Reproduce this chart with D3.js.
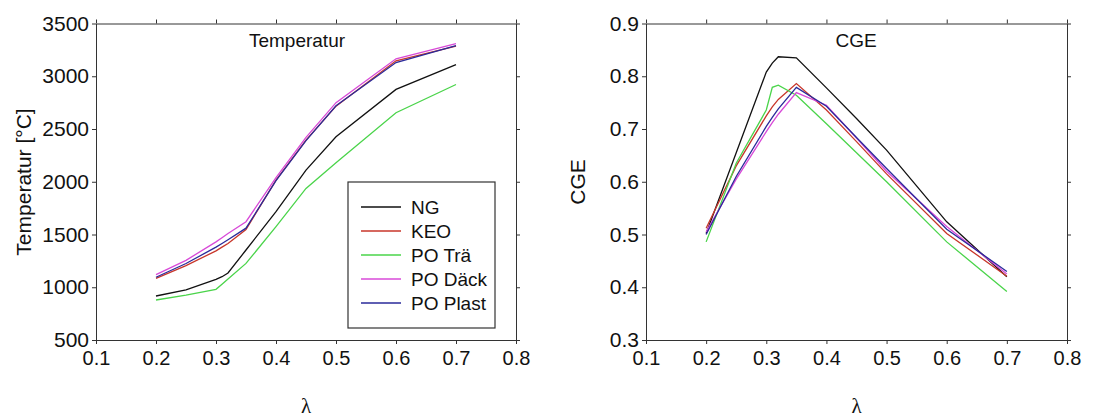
<!DOCTYPE html>
<html>
<head>
<meta charset="utf-8">
<script src="https://cdn.jsdelivr.net/npm/d3@7"></script>
<style>
  body { margin: 0; background: #fff; }
  text { font-family: "Liberation Sans", Arial, sans-serif; fill: #111; }
  .axis path, .axis line { stroke: #333; }
</style>
</head>
<body>
<svg id="chart" width="1120" height="418"></svg>
<script>
// lambda values shared by both panels
const lambda = [0.2, 0.25, 0.3, 0.31, 0.32, 0.35, 0.4, 0.45, 0.5, 0.6, 0.7];

const seriesNames = ["NG", "KEO", "PO Trä", "PO Däck", "PO Plast"];
const seriesColors = ["#111111", "#c8362a", "#4ad44a", "#d84ad8", "#2a2a9a"];

// Temperatur [°C]
const tempNG    = [917, 975, 1075, 1100, 1135, 1353, 1716, 2110, 2426, 2875, 3111];
const tempKEO   = [1084, 1205, 1345, 1380, 1415, 1548, 2016, 2395, 2717, 3146, 3285];
const tempTra   = [879, 926, 980, 1029, 1078, 1226, 1574, 1937, 2180, 2654, 2922];
const tempDack  = [1120, 1255, 1430, 1470, 1510, 1621, 2040, 2420, 2750, 3165, 3310];
const tempPlast = [1095, 1225, 1380, 1415, 1450, 1560, 2010, 2390, 2720, 3130, 3290];

// CGE
const cgeNG    = [0.502, 0.655, 0.808, 0.825, 0.837, 0.835, 0.778, 0.720, 0.660, 0.524, 0.420];
const cgeKEO   = [0.512, 0.630, 0.725, 0.742, 0.756, 0.786, 0.736, 0.676, 0.615, 0.502, 0.421];
const cgeTra   = [0.486, 0.635, 0.736, 0.779, 0.783, 0.764, 0.710, 0.655, 0.600, 0.486, 0.392];
const cgeDack  = [0.505, 0.605, 0.695, 0.712, 0.728, 0.769, 0.745, 0.683, 0.620, 0.515, 0.425];
const cgePlast = [0.500, 0.610, 0.705, 0.722, 0.738, 0.779, 0.743, 0.684, 0.625, 0.510, 0.430];

const xTicks = [0.1, 0.2, 0.3, 0.4, 0.5, 0.6, 0.7, 0.8];
const tempTicks = [500, 1000, 1500, 2000, 2500, 3000, 3500];
const cgeTicks = [0.3, 0.4, 0.5, 0.6, 0.7, 0.8, 0.9];

const svg = d3.select("#chart");
const top_y = 23.5, bottom_y = 340;

function panel(opts) {
  const x = d3.scaleLinear().domain([0.1, 0.8]).range([opts.left, opts.right]);
  const y = d3.scaleLinear().domain(opts.yDomain).range([bottom_y, top_y]);
  const g = svg.append("g");

  // frame axes, ticks on the outside
  g.append("g").attr("class", "axis").attr("transform", "translate(0," + bottom_y + ")")
    .call(d3.axisBottom(x).tickValues(xTicks).tickSize(4).tickPadding(7).tickSizeOuter(0)
      .tickFormat(d3.format(".1f")))
    .call(a => a.selectAll("text").style("font-size", "20px").attr("font-family", null));
  g.append("g").attr("class", "axis").attr("transform", "translate(0," + top_y + ")")
    .call(d3.axisTop(x).tickValues(xTicks).tickSize(4).tickFormat("").tickSizeOuter(0));
  g.append("g").attr("class", "axis").attr("transform", "translate(" + opts.left + ",0)")
    .call(d3.axisLeft(y).tickValues(opts.yTicks).tickSize(4).tickPadding(3).tickSizeOuter(0)
      .tickFormat(opts.fmt))
    .call(a => a.selectAll("text").style("font-size", "21px").attr("font-family", null));
  g.append("g").attr("class", "axis").attr("transform", "translate(" + opts.right + ",0)")
    .call(d3.axisRight(y).tickValues(opts.yTicks).tickSize(4).tickFormat("").tickSizeOuter(0));

  const line = d3.line().x((d, i) => x(lambda[i])).y(d => y(d));
  opts.series.forEach((s, i) => {
    g.append("path").datum(s)
      .attr("fill", "none")
      .attr("stroke", seriesColors[i])
      .attr("stroke-width", 1.3)
      .attr("d", line);
  });

  // title inside plot
  g.append("text").attr("x", opts.titleX).attr("y", 47)
    .attr("text-anchor", "middle").style("font-size", "19px").text(opts.title);

  // x label
  g.append("text").attr("x", (opts.left + opts.right) / 2).attr("y", 413)
    .attr("text-anchor", "middle")
    .style("font-family", "'Liberation Serif', serif").style("font-size", "21px")
    .text("λ");

  // y label
  g.append("text")
    .attr("transform", "translate(" + opts.yLabelX + ",182) rotate(-90)")
    .attr("text-anchor", "middle").style("font-size", "21px").text(opts.yLabel);

  return { x, y, g };
}

panel({
  left: 96, right: 516, yDomain: [500, 3500], yTicks: tempTicks, fmt: d3.format("d"),
  series: [tempNG, tempKEO, tempTra, tempDack, tempPlast],
  title: "Temperatur", titleX: 297, yLabel: "Temperatur [°C]", yLabelX: 31
});

panel({
  left: 646, right: 1067, yDomain: [0.3, 0.9], yTicks: cgeTicks, fmt: d3.format(".1f"),
  series: [cgeNG, cgeKEO, cgeTra, cgeDack, cgePlast],
  title: "CGE", titleX: 856, yLabel: "CGE", yLabelX: 585
});

// legend on the left panel
const legend = svg.append("g").attr("transform", "translate(348,182)");
legend.append("rect").attr("width", 147).attr("height", 146)
  .attr("fill", "#fff").attr("stroke", "#333").attr("stroke-width", 1.2);
seriesNames.forEach((name, i) => {
  const yy = 25 + i * 24;
  legend.append("line").attr("x1", 13).attr("x2", 53).attr("y1", yy).attr("y2", yy)
    .attr("stroke", seriesColors[i]).attr("stroke-width", 1.3);
  legend.append("text").attr("x", 63).attr("y", yy + 7)
    .style("font-size", "19px").text(name);
});
</script>
</body>
</html>
